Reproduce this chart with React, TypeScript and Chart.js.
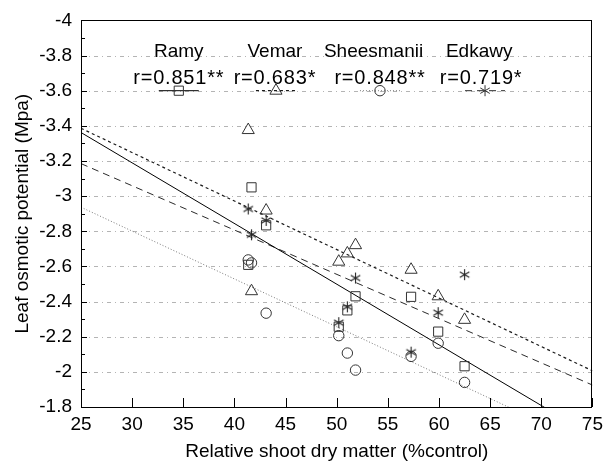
import React, { useEffect, useRef } from "react";
import { Chart, registerables } from "chart.js";

Chart.register(...registerables);

// ---- data ----
const xValues = [41.35, 41.67, 43.1, 50.2, 51.04, 51.84, 57.27, 59.92, 62.5];
const ramyY = [-2.609, -3.05, -2.834, -2.257, -2.35, -2.43, -2.427, -2.229, -2.032];
const vemarY = [-3.376, -2.459, -2.918, -2.627, -2.674, -2.721, -2.581, -2.43, -2.296];
const sheesY = [-2.637, -2.62, -2.334, -2.206, -2.107, -2.01, -2.088, -2.163, -1.94];
const edkawyY = [-2.927, -2.78, -2.862, -2.28, -2.37, -2.534, -2.112, -2.337, -2.553];

// regression lines (values at x = 25 and x = 75)
const fitX = [25, 75];
const ramyFit = [-3.362, -1.636];
const vemarFit = [-3.386, -2.006];
const sheesFit = [-2.937, -1.576];
const edkawyFit = [-3.185, -1.925];

const seriesNames = ["Ramy", "Vemar", "Sheesmanii", "Edkawy"];
const rLabels = ["r=0.851**", "r=0.683*", "r=0.848**", "r=0.719*"];
const legendLevel = -3.6;

const xTicks = [25, 30, 35, 40, 45, 50, 55, 60, 65, 70, 75];
const yTicks = [-4, -3.8, -3.6, -3.4, -3.2, -3, -2.8, -2.6, -2.4, -2.2, -2, -1.8];
const yMinorTicks = [-3.9, -3.7, -3.5, -3.3, -3.1, -2.9, -2.7, -2.5, -2.3, -2.1, -1.9];

const FONT = "'Liberation Sans', Arial, Helvetica, sans-serif";
const MARK = "#333";

const styles = [
  { point: "rect", radius: 6.5, dash: [] as number[], color: "#000", width: 1 },
  { point: "triangle", radius: 7, dash: [3, 3], color: "#1a1a1a", width: 1.2 },
  { point: "circle", radius: 5.2, dash: [1, 2], color: "#7a7a7a", width: 1 },
  { point: "star", radius: 5.5, dash: [7, 5], color: "#2a2a2a", width: 1 },
];

function drawAsterisk(ctx: CanvasRenderingContext2D, cx: number, cy: number, r: number) {
  ctx.beginPath();
  for (const ang of [90, 30, 150]) {
    const a = (ang * Math.PI) / 180;
    const dx = Math.cos(a) * r;
    const dy = Math.sin(a) * r;
    ctx.moveTo(cx - dx, cy - dy);
    ctx.lineTo(cx + dx, cy + dy);
  }
  ctx.stroke();
}

function makeAsteriskCanvas(r: number) {
  const c = document.createElement("canvas");
  const s = 13;
  c.width = s;
  c.height = s;
  const g = c.getContext("2d")!;
  g.strokeStyle = "#222";
  g.lineWidth = 1.1;
  drawAsterisk(g, 6.5, 6.5, r);
  return c;
}

function drawMarker(ctx: CanvasRenderingContext2D, kind: string, x: number, y: number, r: number) {
  ctx.beginPath();
  if (kind === "rect") {
    const h = r * Math.SQRT1_2;
    ctx.rect(x - h, y - h, 2 * h, 2 * h);
    ctx.stroke();
  } else if (kind === "triangle") {
    for (let i = 0; i < 3; i++) {
      const a = (i * 2 * Math.PI) / 3;
      const px = x + Math.sin(a) * r;
      const py = y - Math.cos(a) * r;
      if (i === 0) ctx.moveTo(px, py);
      else ctx.lineTo(px, py);
    }
    ctx.closePath();
    ctx.stroke();
  } else if (kind === "circle") {
    ctx.arc(x, y, r, 0, Math.PI * 2);
    ctx.stroke();
  } else {
    drawAsterisk(ctx, x, y, r);
  }
}

const legendNameX = [34.56, 43.96, 53.6, 63.93];
const legendRX = [34.56, 43.96, 54.23, 64.12];
const legendSymX = [34.56, 44.06, 54.23, 64.5];

const framePlugin = {
  id: "frame",
  beforeDatasetsDraw(chart: any) {
    const { ctx, chartArea: a, scales } = chart;
    const x = scales.x;
    const y = scales.y;
    ctx.save();
    // horizontal dash-dot gridlines
    ctx.strokeStyle = "#b4b4b4";
    ctx.lineWidth = 1;
    ctx.setLineDash([4, 4, 1, 4]);
    for (const v of yTicks) {
      const py = Math.round(y.getPixelForValue(v)) + 0.5;
      if (py <= a.top + 1 || py >= a.bottom - 1) continue;
      ctx.beginPath();
      ctx.moveTo(a.left, py);
      ctx.lineTo(a.right, py);
      ctx.stroke();
    }
    ctx.setLineDash([]);
    // inward ticks
    ctx.strokeStyle = "#000";
    for (const v of yTicks) {
      const py = Math.round(y.getPixelForValue(v)) + 0.5;
      ctx.beginPath();
      ctx.moveTo(a.left, py);
      ctx.lineTo(a.left + 6, py);
      ctx.stroke();
    }
    for (const v of yMinorTicks) {
      const py = Math.round(y.getPixelForValue(v)) + 0.5;
      ctx.beginPath();
      ctx.moveTo(a.left, py);
      ctx.lineTo(a.left + 4, py);
      ctx.stroke();
    }
    for (const v of xTicks) {
      const px = Math.round(x.getPixelForValue(v)) + 0.5;
      ctx.beginPath();
      ctx.moveTo(px, a.bottom);
      ctx.lineTo(px, a.bottom - 9);
      ctx.stroke();
    }
    ctx.restore();
  },
  afterDatasetsDraw(chart: any) {
    const { ctx, chartArea: a, scales } = chart;
    const x = scales.x;
    const y = scales.y;
    ctx.save();
    // frame
    ctx.strokeStyle = "#000";
    ctx.lineWidth = 1;
    ctx.strokeRect(Math.round(a.left) + 0.5, Math.round(a.top) + 0.5, Math.round(a.right - a.left) - 1, Math.round(a.bottom - a.top));
    // legend
    ctx.fillStyle = "#000";
    ctx.textAlign = "center";
    ctx.textBaseline = "alphabetic";
    const symY = y.getPixelForValue(legendLevel);
    for (let i = 0; i < seriesNames.length; i++) {
      ctx.font = `19px ${FONT}`;
      (ctx as any).letterSpacing = "0px";
      ctx.fillText(seriesNames[i], x.getPixelForValue(legendNameX[i]), 57);
      ctx.font = `20px ${FONT}`;
      (ctx as any).letterSpacing = "0.8px";
      ctx.fillText(rLabels[i], x.getPixelForValue(legendRX[i]), 83.5);
      (ctx as any).letterSpacing = "0px";
      const sx = x.getPixelForValue(legendSymX[i]);
      const st = styles[i];
      ctx.strokeStyle = st.color;
      ctx.lineWidth = st.width;
      ctx.setLineDash(st.dash);
      ctx.beginPath();
      ctx.moveTo(sx - 20, symY);
      ctx.lineTo(sx + 20, symY);
      ctx.stroke();
      ctx.setLineDash([]);
      ctx.strokeStyle = MARK;
      ctx.lineWidth = 1;
      drawMarker(ctx, st.point, sx, symY, st.radius);
    }
    ctx.restore();
  },
};

export default function App() {
  const ref = useRef<HTMLCanvasElement | null>(null);
  useEffect(() => {
    if (!ref.current) return;
    const star = makeAsteriskCanvas(styles[3].radius);
    const pts = (ys: number[]) => xValues.map((v, i) => ({ x: v, y: ys[i] }));
    const fit = (ys: number[]) => fitX.map((v, i) => ({ x: v, y: ys[i] }));
    const scatterSets = [ramyY, vemarY, sheesY, edkawyY].map((ys, i) => ({
      type: "scatter" as const,
      label: seriesNames[i],
      data: pts(ys),
      pointStyle: i === 3 ? star : styles[i].point,
      pointRadius: styles[i].radius,
      pointBackgroundColor: "rgba(0,0,0,0)",
      pointBorderColor: MARK,
      pointBorderWidth: 1,
      showLine: false,
      order: 1,
    }));
    const lineSets = [ramyFit, vemarFit, sheesFit, edkawyFit].map((ys, i) => ({
      type: "line" as const,
      label: seriesNames[i] + " fit",
      data: fit(ys),
      borderColor: styles[i].color,
      borderWidth: styles[i].width,
      borderDash: styles[i].dash,
      pointRadius: 0,
      fill: false,
      clip: 0,
      order: 2,
    }));
    const chart = new Chart(ref.current, {
      type: "scatter",
      data: { datasets: [...lineSets, ...scatterSets] as any },
      plugins: [framePlugin],
      options: {
        animation: false,
        responsive: false,
        events: [],
        layout: { padding: { top: 16, right: 12, left: 0, bottom: 0 } },
        plugins: { legend: { display: false }, tooltip: { enabled: false } },
        scales: {
          x: {
            type: "linear",
            min: 25,
            max: 75,
            afterFit: (s: any) => {
              s.height = 60;
            },
            afterBuildTicks: (s: any) => {
              s.ticks = xTicks.map((v) => ({ value: v }));
            },
            grid: { display: false, drawTicks: false },
            border: { display: false },
            ticks: {
              color: "#000",
              font: { family: FONT, size: 19 },
              padding: 6,
              maxRotation: 0,
              autoSkip: false,
            },
            title: {
              display: true,
              text: "Relative shoot dry matter (%control)",
              color: "#000",
              font: { family: FONT, size: 19 },
              padding: { top: 0, bottom: 4 },
            },
          },
          y: {
            type: "linear",
            reverse: true,
            min: -4,
            max: -1.8,
            afterFit: (s: any) => {
              s.width = 81;
            },
            afterBuildTicks: (s: any) => {
              s.ticks = yTicks.map((v) => ({ value: v }));
            },
            grid: { display: false, drawTicks: false },
            border: { display: false },
            ticks: {
              color: "#000",
              font: { family: FONT, size: 19 },
              padding: 9,
              autoSkip: false,
              callback: (v: any) => String(Math.round(Number(v) * 10) / 10),
            },
            title: {
              display: true,
              text: "Leaf osmotic potential (Mpa)",
              color: "#000",
              font: { family: FONT, size: 19 },
              padding: { top: 11, bottom: 0 },
            },
          },
        },
      } as any,
    });
    return () => chart.destroy();
  }, []);
  return (
    <div style={{ position: "absolute", left: 0, top: 0, width: 609, height: 467, background: "#fff" }}>
      <canvas ref={ref} width={609} height={467} style={{ display: "block" }} />
    </div>
  );
}
